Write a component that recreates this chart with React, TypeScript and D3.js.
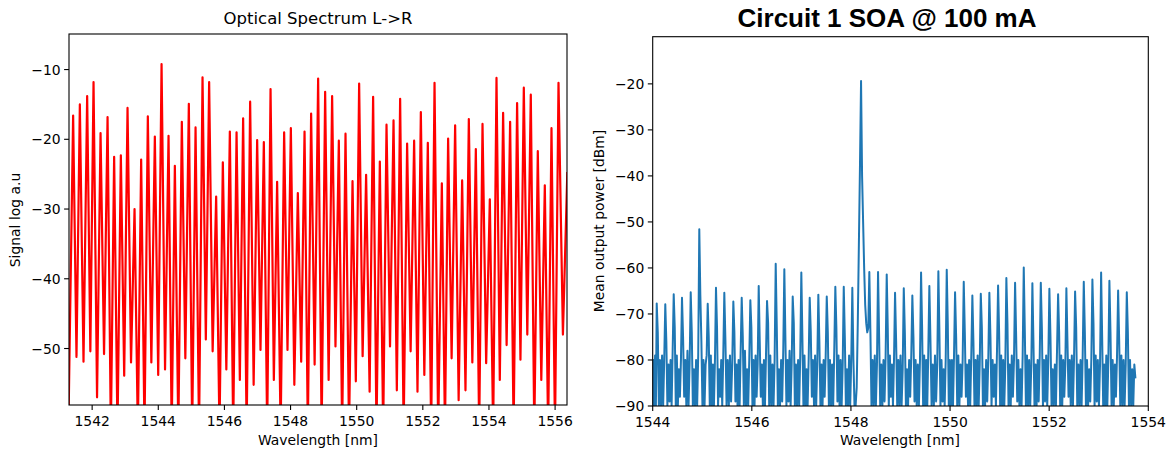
import React from "react";
import * as d3 from "d3";

// ---------- Left panel: Optical Spectrum L->R ----------
const leftPeakWl = [
  1541.425, 1541.628, 1541.849, 1542.042, 1542.254, 1542.466, 1542.665, 1542.868, 1543.07, 1543.282,
  1543.482, 1543.684, 1543.896, 1544.099, 1544.31, 1544.501, 1544.712, 1544.924, 1545.127, 1545.338,
  1545.538, 1545.75, 1545.952, 1546.164, 1546.367, 1546.566, 1546.778, 1546.99, 1547.192, 1547.395,
  1547.594, 1547.806, 1548.009, 1548.22, 1548.423, 1548.622, 1548.834, 1549.046, 1549.257, 1549.46,
  1549.662, 1549.874, 1550.074, 1550.285, 1550.497, 1550.7, 1550.902, 1551.114, 1551.314, 1551.525,
  1551.737, 1551.94, 1552.151, 1552.354, 1552.575, 1552.765, 1552.977, 1553.189, 1553.391, 1553.603,
  1553.805, 1554.026, 1554.228, 1554.428, 1554.64, 1554.851, 1555.054, 1555.265, 1555.477, 1555.689,
  1555.891, 1556.103, 1556.37,
];
const leftPeakVal = [
  -16.6, -15.0, -13.8, -11.8, -19.1, -16.8, -22.5, -22.3, -15.5, -30.0,
  -22.9, -16.7, -19.6, -9.2, -19.5, -23.8, -17.5, -14.9, -18.3, -11.1,
  -11.8, -28.2, -23.3, -18.9, -19.0, -17.0, -14.6, -20.1, -20.4, -12.8,
  -26.1, -19.0, -18.4, -27.7, -18.9, -16.3, -11.3, -13.2, -13.8, -20.2,
  -19.2, -26.0, -12.0, -25.1, -13.9, -23.2, -17.9, -17.3, -14.2, -20.6,
  -20.2, -16.1, -20.5, -11.9, -26.3, -19.9, -18.0, -25.9, -17.1, -21.4,
  -17.8, -28.6, -11.2, -16.2, -17.5, -14.8, -12.6, -13.6, -21.7, -26.6,
  -18.4, -11.9, -24.7,
];
// minimum reached in each gap between two neighbouring peaks
const leftValleyVal = [
  -51.2, -51.9, -50.4, -57.0, -50.8, -62, -62, -53.9, -52, -62,
  -62, -52, -53.8, -53, -62, -62, -51.4, -62, -62, -48.7,
  -50.4, -62, -53, -62, -54.5, -62, -55.2, -50.2, -62, -54.5,
  -62, -50.2, -55.2, -51.9, -62, -52.3, -62, -54.5, -49.7, -62,
  -62, -54.7, -51.1, -56.2, -62, -62, -49.7, -56, -62, -50.4,
  -56.2, -53.8, -62, -62, -62, -51.4, -57.4, -56, -52, -62,
  -52.1, -62, -54.5, -49.5, -62, -51.6, -48, -62, -54.5, -62,
  -62, -48,
];
const leftStartWl = 1541.28;
const leftStartVal = -62;
const leftXTicks = [1542, 1544, 1546, 1548, 1550, 1552, 1554, 1556];
const leftYTicks = [-10, -20, -30, -40, -50];

// ---------- Right panel: Circuit 1 SOA @ 100 mA ----------
const rightPeakWl = [
  1544.081, 1544.254, 1544.424, 1544.591, 1544.767, 1544.94, 1545.11, 1545.277, 1545.445, 1545.627,
  1545.796, 1545.97, 1546.139, 1546.307, 1546.482, 1546.656, 1546.825, 1546.999, 1547.168, 1547.342,
  1547.512, 1547.685, 1547.855, 1548.028, 1548.204, 1548.371, 1548.547, 1548.722, 1548.89, 1549.066,
  1549.239, 1549.415, 1549.582, 1549.764, 1549.933, 1550.101, 1550.276, 1550.45, 1550.62, 1550.793,
  1550.969, 1551.136, 1551.312, 1551.487, 1551.661, 1551.831, 1552.004, 1552.18, 1552.347, 1552.523,
  1552.698, 1552.872, 1553.048, 1553.215, 1553.391, 1553.566,
];
const rightPeakVal = [
  -67.7, -67.9, -65.7, -66.5, -65.3, -51.6, -67.8, -64.3, -65.4, -67.3,
  -66.5, -67.0, -63.9, -67.2, -59.1, -60.3, -66.2, -61.0, -66.5, -65.8,
  -66.2, -64.1, -64.1, -64.3, -19.4, -60.9, -60.9, -61.4, -65.4, -64.4,
  -66.0, -61.0, -63.9, -60.7, -60.4, -65.3, -63.0, -66.0, -65.6, -65.4,
  -63.8, -62.2, -63.2, -59.9, -63.3, -63.2, -64.5, -65.7, -64.4, -65.1,
  -63.0, -62.5, -61.0, -62.8, -64.9, -65.3,
];
// noise floor samples between neighbouring peaks
const rightGapNoise = [
  [-74, -90, -80, -90, -79, -90, -80], [-76, -90, -81, -89, -80, -90, -78], [-73, -90, -79, -90, -82, -88, -80],
  [-75, -88, -80, -90, -78, -90, -81], [-74, -90, -82, -90, -80, -90, -79], [-66, -76, -90, -80, -90, -81, -79],
  [-75, -90, -79, -90, -81, -90, -80], [-73, -90, -82, -88, -80, -90, -79], [-76, -90, -80, -90, -79, -89, -81],
  [-74, -89, -81, -90, -80, -90, -78], [-75, -90, -78, -90, -82, -90, -80], [-73, -90, -80, -90, -79, -88, -81],
  [-76, -88, -81, -90, -80, -90, -79], [-72, -90, -79, -90, -81, -90, -80], [-73, -90, -82, -90, -80, -89, -78],
  [-75, -90, -80, -89, -78, -90, -81], [-72, -90, -81, -90, -80, -90, -79], [-75, -90, -79, -90, -82, -90, -80],
  [-74, -88, -80, -90, -79, -90, -81], [-76, -90, -81, -90, -80, -88, -79], [-74, -90, -80, -90, -81, -90, -78],
  [-73, -89, -79, -90, -80, -90, -81], [-75, -90, -82, -90, -79, -90, -80], [-80, -90, -90, -86, -72, -55, -38],
  [-40, -50, -60, -68, -72, -74, -73], [-74, -90, -80, -90, -79, -90, -81], [-75, -90, -81, -90, -80, -89, -79],
  [-73, -90, -79, -88, -81, -90, -80], [-76, -90, -80, -90, -79, -90, -82], [-74, -90, -82, -90, -80, -88, -79],
  [-75, -89, -80, -90, -81, -90, -80], [-73, -90, -79, -90, -80, -90, -78], [-76, -90, -81, -90, -79, -89, -81],
  [-74, -90, -80, -89, -82, -90, -80], [-72, -90, -80, -90, -80, -90, -79], [-75, -90, -79, -90, -81, -88, -80],
  [-74, -88, -81, -90, -80, -90, -79], [-76, -90, -80, -90, -79, -90, -81], [-73, -90, -82, -90, -80, -89, -80],
  [-75, -90, -80, -88, -81, -90, -78], [-74, -90, -79, -90, -80, -90, -81], [-72, -90, -81, -90, -79, -88, -80],
  [-75, -89, -80, -90, -82, -90, -79], [-74, -90, -79, -90, -80, -90, -81], [-76, -90, -81, -90, -80, -89, -79],
  [-73, -90, -80, -89, -79, -90, -80], [-75, -90, -82, -90, -81, -90, -78], [-74, -90, -79, -90, -80, -88, -81],
  [-76, -88, -80, -90, -79, -90, -80], [-73, -90, -81, -90, -80, -90, -79], [-74, -90, -80, -90, -82, -89, -80],
  [-72, -90, -79, -89, -80, -90, -81], [-75, -90, -81, -90, -79, -90, -80], [-74, -90, -80, -90, -81, -88, -79],
  [-76, -90, -79, -90, -80, -90, -81],
];
const rightStartWl = 1543.95;
const rightLeadNoise = [-77, -90, -78, -90, -80, -90, -79, -90];
const rightEndWl = 1553.74;
const rightTailNoise = [-74, -90, -80, -90, -82, -90, -81, -84];
const rightXTicks = [1544, 1546, 1548, 1550, 1552, 1554];
const rightYTicks = [-20, -30, -40, -50, -60, -70, -80, -90];

type Pt = [number, number];

function buildLeft(): Pt[] {
  const pts: Pt[] = [[leftStartWl, leftStartVal]];
  leftPeakWl.forEach((w, i) => {
    pts.push([w, leftPeakVal[i]]);
    if (i < leftValleyVal.length) {
      pts.push([(w + leftPeakWl[i + 1]) / 2, leftValleyVal[i]]);
    }
  });
  return pts;
}

function buildRight(): Pt[] {
  const pts: Pt[] = [];
  // lead-in from start (inclusive) to first peak (exclusive)
  rightLeadNoise.forEach((v, k) => {
    pts.push([rightStartWl + ((rightPeakWl[0] - rightStartWl) * k) / rightLeadNoise.length, v]);
  });
  rightPeakWl.forEach((w, i) => {
    pts.push([w, rightPeakVal[i]]);
    if (i < rightGapNoise.length) {
      const g = rightGapNoise[i];
      const nxt = rightPeakWl[i + 1];
      g.forEach((v, k) => pts.push([w + ((nxt - w) * (k + 1)) / (g.length + 1), v]));
    }
  });
  const last = rightPeakWl[rightPeakWl.length - 1];
  rightTailNoise.forEach((v, k) => {
    pts.push([last + ((rightEndWl - last) * (k + 1)) / rightTailNoise.length, v]);
  });
  return pts;
}

const FONT = "DejaVu Sans, sans-serif";
const minus = (v: number) => String(v).replace("-", "\u2212");

function Axes(props: {
  x: d3.ScaleLinear<number, number>;
  y: d3.ScaleLinear<number, number>;
  xTicks: number[];
  yTicks: number[];
}) {
  const { x, y, xTicks, yTicks } = props;
  const [x0, x1] = x.range();
  const [y0, y1] = y.range();
  const tl = 4.9;
  return (
    <g fontFamily={FONT} fontSize={13.9} fill="#000">
      {xTicks.map((t) => (
        <g key={"x" + t}>
          <line x1={x(t)} x2={x(t)} y1={y0} y2={y0 + tl} stroke="#000" strokeWidth={1.1} />
          <text x={x(t)} y={y0 + tl + 16} textAnchor="middle">
            {t}
          </text>
        </g>
      ))}
      {yTicks.map((t) => (
        <g key={"y" + t}>
          <line x1={x0 - tl} x2={x0} y1={y(t)} y2={y(t)} stroke="#000" strokeWidth={1.1} />
          <text x={x0 - tl - 3.5} y={y(t) + 5} textAnchor="end">
            {minus(t)}
          </text>
        </g>
      ))}
      <rect x={x0} y={y1} width={x1 - x0} height={y0 - y1} fill="none" stroke="#000" strokeWidth={1.1} />
    </g>
  );
}

export default function App() {
  // left panel geometry
  const lx = d3.scaleLinear().domain([1541.3, 1556.36]).range([69, 567]);
  const ly = d3.scaleLinear().domain([-58.1, -4.9]).range([405, 34]);
  // right panel geometry
  const rx = d3.scaleLinear().domain([1544, 1554]).range([652.7, 1148.3]);
  const ry = d3.scaleLinear().domain([-90, -9.75]).range([406, 36.7]);

  const leftLine = d3
    .line<Pt>()
    .x((d) => lx(d[0]))
    .y((d) => ly(d[1]))(buildLeft());
  const rightLine = d3
    .line<Pt>()
    .x((d) => rx(d[0]))
    .y((d) => ry(d[1]))(buildRight());

  return (
    <svg
      width={1171}
      height={451}
      style={{ position: "absolute", left: 0, top: 0, background: "#fff" }}
    >
      <defs>
        <clipPath id="clipL">
          <rect x={69} y={34} width={498} height={371} />
        </clipPath>
        <clipPath id="clipR">
          <rect x={652.7} y={36.7} width={495.6} height={369.3} />
        </clipPath>
      </defs>
      <rect x={0} y={0} width={1171} height={451} fill="#fff" />

      {/* left panel */}
      <path d={leftLine ?? ""} fill="none" stroke="#ff0000" strokeWidth={2.2} strokeLinejoin="round" clipPath="url(#clipL)" />
      <Axes x={lx} y={ly} xTicks={leftXTicks} yTicks={leftYTicks} />
      <text x={318} y={24} textAnchor="middle" fontFamily={FONT} fontSize={16.5} fill="#000">
        Optical Spectrum L-&gt;R
      </text>
      <text x={318} y={445} textAnchor="middle" fontFamily={FONT} fontSize={13.9} fill="#000">
        Wavelength [nm]
      </text>
      <text
        transform="translate(20,220) rotate(-90)"
        textAnchor="middle"
        fontFamily={FONT}
        fontSize={13.9}
        fill="#000"
      >
        Signal log a.u
      </text>

      {/* right panel */}
      <path d={rightLine ?? ""} fill="none" stroke="#1f77b4" strokeWidth={2} strokeLinejoin="round" clipPath="url(#clipR)" />
      <Axes x={rx} y={ry} xTicks={rightXTicks} yTicks={rightYTicks} />
      <text
        x={887}
        y={27}
        textAnchor="middle"
        fontFamily="Liberation Sans, Arial, sans-serif"
        fontWeight="bold"
        fontSize={26}
        fill="#000"
      >
        Circuit 1 SOA @ 100 mA
      </text>
      <text x={900} y={445} textAnchor="middle" fontFamily={FONT} fontSize={13.9} fill="#000">
        Wavelength [nm]
      </text>
      <text
        transform="translate(604,221) rotate(-90)"
        textAnchor="middle"
        fontFamily={FONT}
        fontSize={13.9}
        fill="#000"
      >
        Mean output power [dBm]
      </text>
    </svg>
  );
}
